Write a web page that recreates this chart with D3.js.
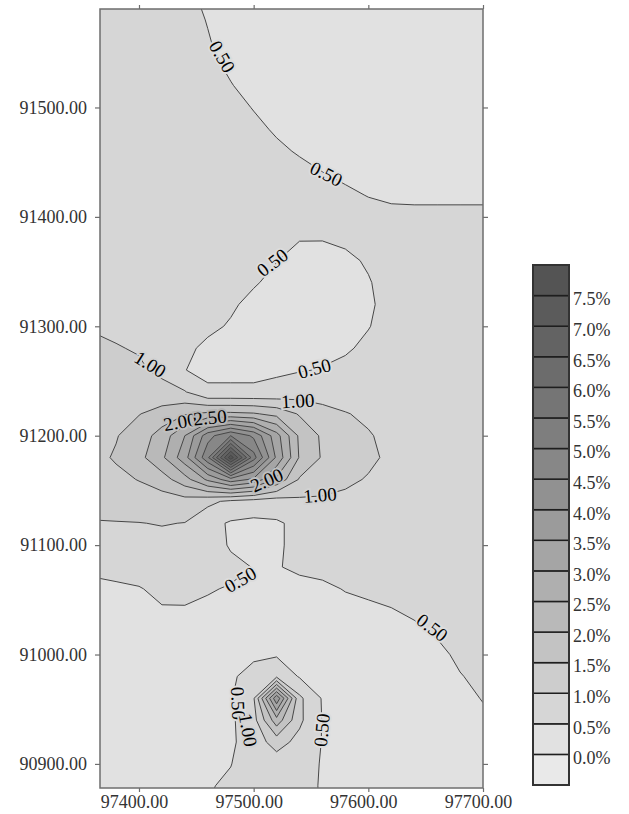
<!DOCTYPE html>
<html><head><meta charset="utf-8">
<script src="https://cdn.jsdelivr.net/npm/d3@7"></script>
<style>
html,body{margin:0;padding:0;background:#fff;}
svg{display:block;}
text{font-family:"Liberation Serif","Times New Roman",serif;}
</style></head><body>
<svg id="chart" width="629" height="814"></svg>
<script>
// ---------------- data ----------------
const xDomain = [97366, 97700];
const yDomain = [90878, 91590];
const xTicks = [97400, 97500, 97600, 97700];
const yTicks = [90900, 91000, 91100, 91200, 91300, 91400, 91500];
const levels = [0.5, 1.0, 1.5, 2.0, 2.5, 3.0, 3.5, 4.0, 4.5, 5.0, 5.5, 6.0, 6.5, 7.0, 7.5];
const legendEdges = [-0.5, 0.0, 0.5, 1.0, 1.5, 2.0, 2.5, 3.0, 3.5, 4.0, 4.5, 5.0, 5.5, 6.0, 6.5, 7.0, 7.5, 8.0];
const legendLabels = ["7.5%", "7.0%", "6.5%", "6.0%", "5.5%", "5.0%", "4.5%", "4.0%", "3.5%", "3.0%", "2.5%", "2.0%", "1.5%", "1.0%", "0.5%", "0.0%"];
const legendLabelValues = [7.5, 7.0, 6.5, 6.0, 5.5, 5.0, 4.5, 4.0, 3.5, 3.0, 2.5, 2.0, 1.5, 1.0, 0.5, 0.0];

// grid node coordinates
const gridX = [97360, 97380, 97400, 97420, 97440, 97460, 97480, 97500, 97520, 97540, 97560, 97580, 97600, 97620, 97640, 97660, 97680, 97700];
const gridY = [91600, 91580, 91560, 91540, 91520, 91500, 91480, 91460, 91440, 91420, 91400, 91380, 91360, 91340, 91320, 91300, 91280, 91260, 91240, 91220,
               91200, 91180, 91160, 91140, 91120, 91100, 91080, 91060, 91040, 91020, 91000, 90980, 90960, 90940, 90920, 90900, 90880, 90860];

const grid = [
 [0.75,0.75,0.72,0.65,0.555,0.455,0.40,0.40,0.40,0.40,0.40,0.40,0.40,0.40,0.40,0.40,0.40,0.40],
 [0.75,0.75,0.72,0.67,0.58,0.49,0.40,0.40,0.40,0.40,0.40,0.40,0.40,0.40,0.40,0.40,0.40,0.40],
 [0.75,0.75,0.72,0.70,0.60,0.515,0.42,0.40,0.40,0.40,0.40,0.40,0.40,0.40,0.40,0.40,0.40,0.40],
 [0.75,0.75,0.72,0.72,0.65,0.55,0.46,0.40,0.40,0.40,0.40,0.40,0.40,0.40,0.40,0.40,0.40,0.40],
 [0.75,0.75,0.72,0.72,0.70,0.60,0.51,0.43,0.40,0.40,0.40,0.40,0.40,0.40,0.40,0.40,0.40,0.40],
 [0.75,0.75,0.72,0.72,0.72,0.67,0.57,0.49,0.415,0.40,0.40,0.40,0.40,0.40,0.40,0.40,0.40,0.40],
 [0.75,0.75,0.72,0.72,0.72,0.70,0.62,0.55,0.475,0.40,0.40,0.40,0.40,0.40,0.40,0.40,0.40,0.40],
 [0.75,0.75,0.72,0.72,0.72,0.72,0.68,0.60,0.54,0.48,0.42,0.40,0.40,0.40,0.40,0.40,0.40,0.40],
 [0.75,0.75,0.72,0.72,0.72,0.72,0.70,0.68,0.62,0.56,0.505,0.45,0.40,0.40,0.40,0.40,0.40,0.40],
 [0.75,0.75,0.72,0.72,0.72,0.72,0.70,0.70,0.66,0.62,0.575,0.545,0.49,0.46,0.455,0.455,0.455,0.455],
 [0.75,0.75,0.72,0.72,0.72,0.72,0.70,0.70,0.66,0.62,0.60,0.62,0.59,0.56,0.555,0.555,0.555,0.555],
 [0.78,0.77,0.72,0.72,0.72,0.72,0.70,0.68,0.58,0.51,0.51,0.54,0.62,0.65,0.65,0.65,0.65,0.65],
 [0.82,0.80,0.76,0.72,0.70,0.68,0.65,0.58,0.505,0.42,0.41,0.455,0.525,0.60,0.68,0.70,0.70,0.70],
 [0.87,0.84,0.80,0.74,0.66,0.63,0.60,0.52,0.445,0.38,0.38,0.38,0.485,0.585,0.68,0.70,0.70,0.70],
 [0.92,0.88,0.84,0.76,0.64,0.62,0.53,0.445,0.38,0.38,0.38,0.38,0.47,0.57,0.67,0.70,0.70,0.70],
 [0.98,0.93,0.90,0.80,0.62,0.545,0.48,0.40,0.38,0.38,0.38,0.39,0.49,0.59,0.68,0.70,0.70,0.70],
 [1.05,1.02,0.97,0.78,0.545,0.455,0.44,0.38,0.38,0.38,0.40,0.47,0.55,0.63,0.68,0.70,0.70,0.70],
 [1.12,1.10,1.06,0.90,0.505,0.43,0.43,0.43,0.45,0.475,0.52,0.56,0.65,0.68,0.70,0.70,0.70,0.70],
 [1.20,1.18,1.12,1.15,1.03,0.55,0.55,0.55,0.60,0.75,0.80,0.80,0.82,0.75,0.72,0.72,0.70,0.70],
 [1.27,1.30,1.48,1.70,1.95,2.10,2.10,2.05,1.85,1.45,1.15,1.02,0.93,0.85,0.78,0.73,0.70,0.70],
 [1.33,1.47,1.75,2.20,3.00,4.30,5.00,4.40,3.20,1.90,1.42,1.20,1.03,0.90,0.80,0.75,0.70,0.70],
 [1.36,1.55,1.85,2.40,3.30,4.90,7.80,5.20,3.40,1.95,1.45,1.25,1.08,0.92,0.80,0.75,0.72,0.70],
 [1.30,1.38,1.52,1.78,2.30,3.10,3.80,3.40,2.40,1.45,1.30,1.08,0.97,0.85,0.80,0.74,0.72,0.70],
 [1.17,1.20,1.25,1.25,1.30,1.12,0.90,0.80,0.75,0.90,0.90,0.90,0.88,0.80,0.76,0.72,0.70,0.70],
 [0.97,0.98,0.99,1.02,0.99,0.65,0.45,0.40,0.45,0.60,0.78,0.80,0.80,0.75,0.72,0.70,0.70,0.70],
 [0.78,0.80,0.83,0.87,0.86,0.65,0.47,0.40,0.45,0.60,0.68,0.70,0.72,0.70,0.68,0.68,0.68,0.70],
 [0.56,0.60,0.65,0.73,0.72,0.60,0.57,0.49,0.49,0.53,0.56,0.60,0.63,0.63,0.64,0.65,0.66,0.70],
 [0.43,0.45,0.48,0.58,0.59,0.52,0.48,0.43,0.43,0.45,0.46,0.51,0.54,0.56,0.58,0.62,0.64,0.70],
 [0.40,0.40,0.42,0.47,0.47,0.45,0.42,0.40,0.40,0.42,0.42,0.44,0.46,0.49,0.53,0.58,0.62,0.68],
 [0.40,0.40,0.40,0.42,0.42,0.40,0.40,0.40,0.40,0.40,0.40,0.40,0.42,0.43,0.46,0.52,0.58,0.65],
 [0.40,0.40,0.40,0.40,0.40,0.40,0.40,0.45,0.45,0.40,0.40,0.40,0.40,0.40,0.42,0.45,0.54,0.60],
 [0.40,0.40,0.40,0.40,0.40,0.40,0.46,0.60,0.90,0.46,0.40,0.40,0.40,0.40,0.40,0.41,0.49,0.55],
 [0.40,0.40,0.40,0.40,0.40,0.40,0.46,0.95,3.90,1.10,0.46,0.40,0.40,0.40,0.40,0.40,0.44,0.51],
 [0.40,0.40,0.40,0.40,0.40,0.40,0.42,0.82,2.30,1.10,0.48,0.40,0.40,0.40,0.40,0.40,0.41,0.46],
 [0.40,0.40,0.40,0.40,0.40,0.40,0.42,0.75,1.20,0.85,0.48,0.40,0.40,0.40,0.40,0.40,0.40,0.42],
 [0.40,0.40,0.40,0.40,0.40,0.42,0.49,0.70,0.75,0.68,0.47,0.40,0.40,0.40,0.40,0.40,0.40,0.40],
 [0.40,0.40,0.40,0.40,0.40,0.47,0.56,0.65,0.68,0.62,0.47,0.40,0.40,0.40,0.40,0.40,0.40,0.40],
 [0.40,0.40,0.40,0.40,0.40,0.51,0.58,0.65,0.65,0.65,0.47,0.40,0.40,0.40,0.40,0.40,0.40,0.40]
];

// contour labels: level text, anchor (map coords), rotation
const labelText  = ["0.50","0.50","0.50","0.50","1.00","1.00","2.00","2.50","2.00","1.00","0.50","0.50","0.50","1.00","0.50"];
const labelLevel = [0.5,0.5,0.5,0.5,1.0,1.0,2.0,2.5,2.0,1.0,0.5,0.5,0.5,1.0,0.5];
const labelX = [97472.6, 97563.4, 97516.3, 97553.0, 97409.9, 97538.5, 97435.8, 97461.9, 97511.4, 97557.9, 97488.3, 97655.8, 97486.6, 97495.3, 97559.3];
const labelY = [91546.5, 91439.4, 91358.4, 91261.6, 91265.4, 91232.0, 91212.8, 91216.8, 91159.5, 91145.8, 91068.6, 91024.7, 90955.4, 90931.0, 90931.0];
const labelAngle = [60, 27, -37, -15, 32, -3, -10, -5, -24, -5, -30, 37, 88, 80, -85];

// band fill colours: <0, 0-0.5, 0.5-1.0, ... , >=7.5
const bandColors = ["#e9e9e9","#e1e1e1","#d6d6d6","#cdcdcd","#c3c3c3","#b9b9b9","#afafaf","#a5a5a5","#9b9b9b",
                    "#919191","#878787","#7e7e7e","#757575","#6c6c6c","#636363","#5b5b5b","#545454"];

// ---------------- drawing ----------------
const svg = d3.select("#chart");
const P = {left: 100, right: 483, top: 9, bottom: 788};
const x = d3.scaleLinear().domain(xDomain).range([P.left, P.right]);
const y = d3.scaleLinear().domain(yDomain).range([P.bottom, P.top]);

svg.append("defs").append("clipPath").attr("id", "plotclip")
  .append("rect").attr("x", P.left).attr("y", P.top)
  .attr("width", P.right - P.left).attr("height", P.bottom - P.top);

const nx = gridX.length, ny = gridY.length;
const values = grid.flat();
const contours = d3.contours().size([nx, ny]).thresholds(levels)(values);
const stepX = gridX[1] - gridX[0], stepY = gridY[1] - gridY[0];
const proj = d3.geoTransform({
  point: function(cx, cy) {
    this.stream.point(x(gridX[0] + (cx - 0.5) * stepX), y(gridY[0] + (cy - 0.5) * stepY));
  }
});
const path = d3.geoPath(proj);

const g = svg.append("g").attr("clip-path", "url(#plotclip)");
g.append("rect").attr("x", P.left).attr("y", P.top)
  .attr("width", P.right - P.left).attr("height", P.bottom - P.top)
  .attr("fill", bandColors[1]);
g.selectAll("path.band").data(contours).join("path")
  .attr("class", "band").attr("d", path)
  .attr("fill", (d, i) => bandColors[i + 2]).attr("stroke", "none");
g.selectAll("path.line").data(contours).join("path")
  .attr("class", "line").attr("d", path)
  .attr("fill", "none").attr("stroke", "#474747").attr("stroke-width", 1);

// contour labels
const lg = svg.append("g").attr("clip-path", "url(#plotclip)");
labelText.forEach((t, i) => {
  const k = Math.round(labelLevel[i] / 0.5);
  const halo = d3.interpolateRgb(bandColors[k], bandColors[k + 1])(0.5);
  lg.append("text")
    .attr("transform", `translate(${x(labelX[i])},${y(labelY[i])}) rotate(${labelAngle[i]})`)
    .attr("text-anchor", "middle").attr("dy", "0.35em")
    .attr("font-size", 19).attr("fill", "#000")
    .attr("stroke", halo).attr("stroke-width", 4).attr("paint-order", "stroke")
    .text(t);
});

// frame
svg.append("rect").attr("x", P.left).attr("y", P.top)
  .attr("width", P.right - P.left).attr("height", P.bottom - P.top)
  .attr("fill", "none").attr("stroke", "#6e6e6e").attr("stroke-width", 1.5);

const fmt = d3.format(".2f");
function styleAxis(sel) {
  sel.select(".domain").remove();
  sel.selectAll(".tick line").attr("stroke", "#6e6e6e").attr("stroke-width", 1.2);
  sel.selectAll(".tick text").attr("fill", "#333").attr("font-size", 18)
     .attr("font-family", "'Liberation Serif','Times New Roman',serif");
}
const xb = svg.append("g").attr("transform", `translate(0,${P.bottom})`)
  .call(d3.axisBottom(x).tickValues(xTicks).tickFormat(fmt).tickSize(4).tickPadding(3));
styleAxis(xb);
xb.selectAll(".tick text").attr("x", -5);
const xt = svg.append("g").attr("transform", `translate(0,${P.top})`)
  .call(d3.axisTop(x).tickValues(xTicks).tickFormat("").tickSize(4));
styleAxis(xt);
const yl = svg.append("g").attr("transform", `translate(${P.left},0)`)
  .call(d3.axisLeft(y).tickValues(yTicks).tickFormat(fmt).tickSize(5).tickPadding(8));
styleAxis(yl);
const yr = svg.append("g").attr("transform", `translate(${P.right},0)`)
  .call(d3.axisRight(y).tickValues(yTicks).tickFormat("").tickSize(5));
styleAxis(yr);

// colour bar
const C = {x: 533, w: 36, top: 265, bottom: 785};
const cy = d3.scaleLinear().domain([legendEdges[0], legendEdges[legendEdges.length - 1]]).range([C.bottom, C.top]);
const cb = svg.append("g");
for (let i = 0; i < legendEdges.length - 1; i++) {
  cb.append("rect").attr("x", C.x).attr("y", cy(legendEdges[i + 1]))
    .attr("width", C.w).attr("height", cy(legendEdges[i]) - cy(legendEdges[i + 1]))
    .attr("fill", bandColors[i]).attr("stroke", "#1e1e1e").attr("stroke-width", 1.5);
}
cb.append("rect").attr("x", C.x).attr("y", C.top).attr("width", C.w).attr("height", C.bottom - C.top)
  .attr("fill", "none").attr("stroke", "#333").attr("stroke-width", 2);
legendLabels.forEach((t, i) => {
  cb.append("text").attr("x", C.x + C.w + 4).attr("y", cy(legendLabelValues[i]) + 3.5)
    .attr("dy", "0.35em").attr("font-size", 18).attr("fill", "#333").text(t);
});
</script>
</body></html>
